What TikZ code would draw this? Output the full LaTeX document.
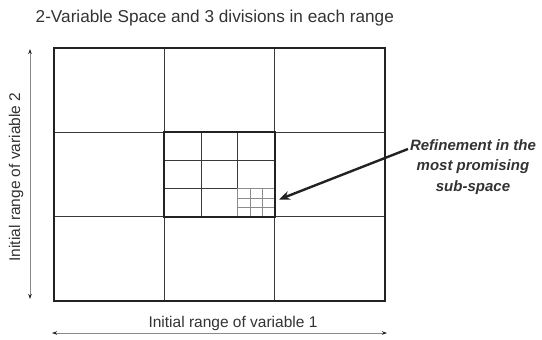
\documentclass[tikz,border=0pt]{standalone}
\usepackage{fontspec}
\setmainfont{Liberation Sans}
\usetikzlibrary{arrows.meta}
\definecolor{ink}{HTML}{222222}
\definecolor{txt}{HTML}{333333}
\definecolor{thin}{HTML}{3A3A3A}
\definecolor{fine}{HTML}{8C8C8C}
\definecolor{axis}{HTML}{8A8A8A}
\tikzset{
  outerbox/.style={draw=ink, line width=2.4pt},
  gridline/.style={draw=thin, line width=1.1pt},
  innerbox/.style={draw=ink, line width=2.1pt},
  fineline/.style={draw=fine, line width=1pt},
  axisarrow/.style={draw=axis, line width=0.9pt, {Stealth[length=5pt,width=3.5pt,color=ink]}-{Stealth[length=5pt,width=3.5pt,color=ink]}},
  pointer/.style={draw=ink, line width=2.4pt, -{Stealth[length=11pt,width=9pt]}},
  lbl/.style={text=txt, font=\fontsize{15.5}{18}\selectfont, inner sep=0pt},
  note/.style={text=txt, font=\fontsize{15}{20.5}\selectfont\bfseries\itshape, align=center, inner sep=0pt},
}
\begin{document}
\begin{tikzpicture}[x=1pt,y=-1pt]
\useasboundingbox (0,0) rectangle (542,340);
% title
\node[lbl, font=\fontsize{17.2}{20}\selectfont, anchor=base west] (title) at (35.5,23) {2-Variable Space and 3 divisions in each range};
% grid
\coordinate (nw) at (54,48);
\coordinate (se) at (385,301);
\draw[gridline] (164.3,48) -- (164.3,301) (274.7,48) -- (274.7,301)
                (54,132.3) -- (385,132.3) (54,216.7) -- (385,216.7);
% inner refinement
\draw[gridline] (201.1,132.3) -- (201.1,216.7) (237.9,132.3) -- (237.9,216.7)
                (164.3,160.4) -- (274.7,160.4) (164.3,188.6) -- (274.7,188.6);
% finest refinement
\draw[fineline] (250.2,188.6) -- (250.2,216.7) (262.5,188.6) -- (262.5,216.7)
                (237.9,198.0) -- (274.7,198.0) (237.9,207.3) -- (274.7,207.3);
\draw[fineline] (237.9,188.6) rectangle (274.7,216.7);
\draw[innerbox] (164.3,132.3) rectangle (274.7,216.7);
\draw[outerbox] (nw) rectangle (se);
% axes
\coordinate (vtop) at (30,49);
\coordinate (vbot) at (30,299);
\draw[axisarrow] (vtop) -- (vbot);
\node[lbl, rotate=90] (ylab) at (16,177) {Initial range of variable 2};
\coordinate (hleft) at (52,333);
\coordinate (hright) at (387,333);
\draw[axisarrow] (hleft) -- (hright);
\node[lbl] (xlab) at (233,323) {Initial range of variable 1};
% note
\node[note] (note) at (473,167) {Refinement in the\\most promising\\sub-space};
\coordinate (from) at (408,149);
\coordinate (to) at (279,199.5);
\draw[pointer] (from) -- (to);
\end{tikzpicture}
\end{document}
